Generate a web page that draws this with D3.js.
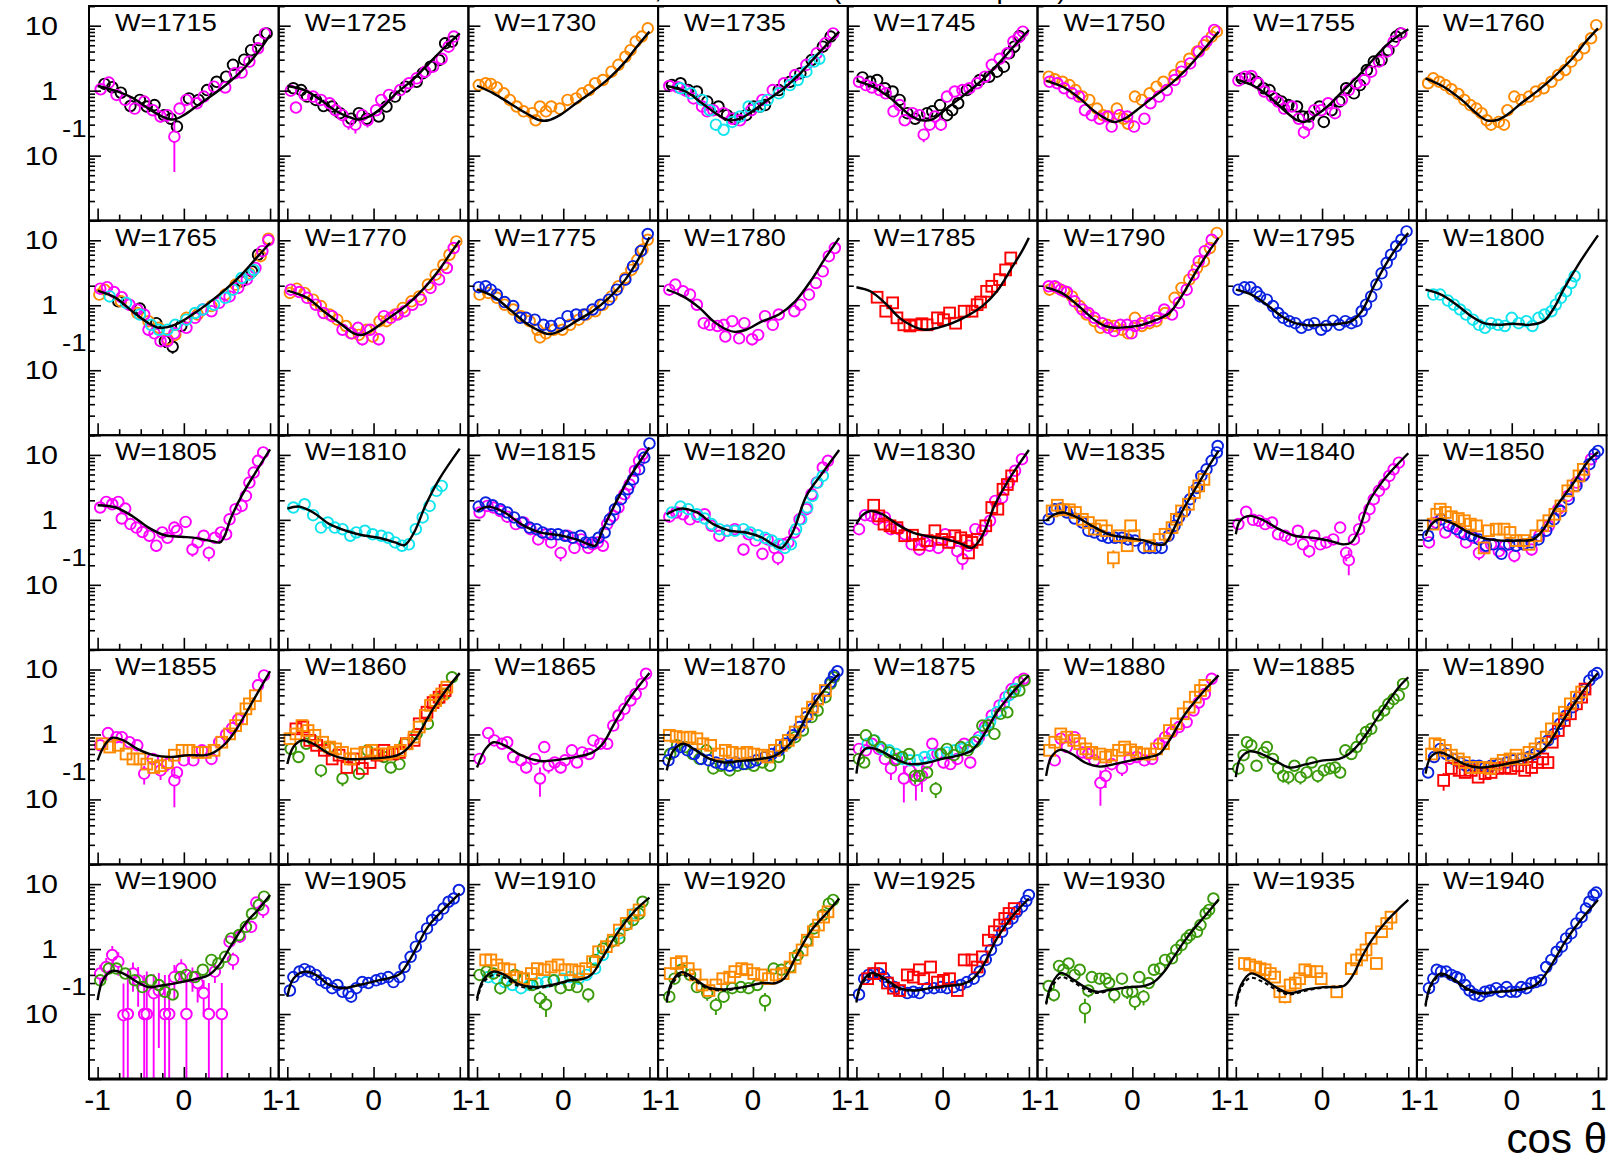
<!DOCTYPE html>
<html><head><meta charset="utf-8">
<script src="https://cdn.jsdelivr.net/npm/d3@7"></script>
<style>body{margin:0;background:#fff}svg{display:block}text{font-family:"Liberation Sans",Arial,sans-serif}</style>
</head><body>
<svg id="c" width="1613" height="1162"></svg>
<script>
// ---------- panel labels (W in MeV) ----------
const W = [1715,1725,1730,1735,1745,1750,1755,1760,
           1765,1770,1775,1780,1785,1790,1795,1800,
           1805,1810,1815,1820,1830,1835,1840,1850,
           1855,1860,1865,1870,1875,1880,1885,1890,
           1900,1905,1910,1920,1925,1930,1935,1940];
const xTickLabels = [-1,0,1];
const yTickLabels = [10,1,0.1];

// ---------- fit curves [cos theta, value] ----------
const fits = [
 [[-1,1.18],[-0.8,1.0],[-0.6,0.78],[-0.4,0.52],[-0.25,0.4],[-0.12,0.36],[0,0.42],[0.15,0.58],[0.3,0.8],[0.45,1.12],[0.6,1.65],[0.75,2.6],[0.9,4.6],[1,7.2]],
 [[-1,1.18],[-0.8,1.02],[-0.6,0.7],[-0.45,0.5],[-0.3,0.4],[-0.18,0.36],[-0.05,0.4],[0.1,0.55],[0.25,0.88],[0.45,1.45],[0.6,2.3],[0.8,4.3],[1,7.6]],
 [[-1,1.19],[-0.81,0.91],[-0.62,0.64],[-0.43,0.45],[-0.27,0.35],[-0.17,0.35],[-0.04,0.42],[0.15,0.64],[0.34,0.97],[0.53,1.55],[0.72,2.8],[0.84,4.5],[1,8.1]],
 [[-1,1.18],[-0.78,0.97],[-0.59,0.64],[-0.4,0.42],[-0.27,0.35],[-0.15,0.37],[0.01,0.5],[0.17,0.72],[0.36,1.09],[0.55,1.85],[0.74,3.5],[1,8.1]],
 [[-1,1.41],[-0.79,1.12],[-0.58,0.72],[-0.38,0.42],[-0.24,0.35],[-0.12,0.36],[0.02,0.5],[0.2,0.76],[0.37,1.15],[0.54,1.85],[0.72,3.33],[0.89,6.0],[1,8.6]],
 [[-1,1.43],[-0.79,1.12],[-0.61,0.76],[-0.44,0.48],[-0.29,0.36],[-0.21,0.33],[-0.09,0.37],[0.05,0.5],[0.25,0.81],[0.43,1.22],[0.6,1.96],[0.77,3.5],[1,8.1]],
 [[-1,1.49],[-0.79,1.18],[-0.61,0.81],[-0.44,0.5],[-0.29,0.35],[-0.21,0.33],[-0.09,0.4],[0.08,0.6],[0.25,1.02],[0.43,1.74],[0.6,3.1],[0.77,5.35],[1,8.8]],
 [[-1,1.55],[-0.79,1.15],[-0.58,0.72],[-0.41,0.45],[-0.29,0.35],[-0.18,0.35],[-0.06,0.42],[0.11,0.64],[0.31,1.02],[0.51,1.74],[0.72,3.33],[0.86,5.7],[1,9.1]],
 [[-1,1.68],[-0.79,1.3],[-0.6,0.81],[-0.41,0.53],[-0.29,0.45],[-0.19,0.46],[-0.06,0.53],[0.1,0.72],[0.29,1.09],[0.48,1.74],[0.67,2.96],[0.86,5.7],[1,9.1]],
 [[-1,1.68],[-0.77,1.3],[-0.58,0.81],[-0.39,0.53],[-0.23,0.37],[-0.13,0.35],[-0.01,0.42],[0.18,0.64],[0.37,0.97],[0.57,1.74],[0.76,3.5],[0.91,6.8],[1,9.9]],
 [[-1,1.74],[-0.81,1.37],[-0.62,0.86],[-0.43,0.53],[-0.27,0.4],[-0.17,0.36],[-0.04,0.4],[0.15,0.57],[0.34,0.81],[0.53,1.3],[0.72,2.48],[0.88,5.35],[1,11.1]],
 [[-1,1.74],[-0.81,1.37],[-0.62,0.91],[-0.46,0.57],[-0.3,0.42],[-0.21,0.39],[-0.08,0.42],[0.11,0.57],[0.3,0.72],[0.49,1.15],[0.68,2.48],[0.84,5.35],[1,10.9]],
 [[-1,1.89],[-0.84,1.64],[-0.67,1.09],[-0.5,0.64],[-0.35,0.48],[-0.21,0.42],[-0.06,0.45],[0.11,0.53],[0.28,0.68],[0.46,0.97],[0.63,1.64],[0.8,3.75],[0.92,6.8],[1,10.9]],
 [[-1,1.89],[-0.82,1.55],[-0.64,1.02],[-0.47,0.64],[-0.32,0.48],[-0.21,0.45],[-0.06,0.46],[0.11,0.5],[0.28,0.6],[0.43,0.76],[0.57,1.37],[0.75,3.5],[0.89,6.8],[1,10.9]],
 [[-1,1.74],[-0.82,1.46],[-0.64,1.02],[-0.47,0.68],[-0.29,0.52],[-0.15,0.49],[0.02,0.5],[0.2,0.52],[0.34,0.57],[0.46,0.81],[0.6,1.96],[0.75,4.5],[0.89,8.6],[1,12.9]],
 [[-1,1.74],[-0.82,1.46],[-0.64,1.02],[-0.47,0.68],[-0.32,0.53],[-0.15,0.5],[0.02,0.52],[0.2,0.5],[0.37,0.57],[0.49,0.91],[0.6,1.74],[0.77,4.2],[1,11.9]],
 [[-1,1.68],[-0.79,1.55],[-0.6,1.15],[-0.41,0.76],[-0.22,0.58],[-0.03,0.55],[0.16,0.52],[0.33,0.47],[0.42,0.45],[0.48,0.6],[0.54,1.02],[0.67,2.34],[0.83,5.35],[1,12.2]],
 [[-1,1.49],[-0.86,1.6],[-0.7,1.3],[-0.51,0.86],[-0.32,0.68],[-0.13,0.58],[0.06,0.53],[0.25,0.45],[0.36,0.41],[0.47,0.64],[0.6,1.64],[0.76,4.2],[1,12.5]],
 [[-1,1.37],[-0.87,1.6],[-0.68,1.3],[-0.49,0.86],[-0.27,0.64],[-0.04,0.58],[0.15,0.5],[0.3,0.42],[0.37,0.4],[0.46,0.72],[0.62,1.96],[0.78,4.75],[1,13]],
 [[-1,1.22],[-0.84,1.49],[-0.65,1.3],[-0.46,0.86],[-0.27,0.68],[-0.08,0.64],[0.11,0.53],[0.23,0.42],[0.33,0.37],[0.46,0.64],[0.62,2.34],[0.81,5.35],[1,11.9]],
 [[-1,0.86],[-0.93,1.18],[-0.84,1.37],[-0.7,1.22],[-0.53,0.86],[-0.35,0.64],[-0.15,0.55],[0.05,0.5],[0.23,0.42],[0.34,0.37],[0.46,0.57],[0.6,1.64],[0.77,4.2],[1,11.9]],
 [[-1,0.97],[-0.9,1.22],[-0.8,1.3],[-0.64,1.09],[-0.47,0.81],[-0.27,0.6],[-0.06,0.53],[0.14,0.48],[0.28,0.42],[0.37,0.42],[0.46,0.64],[0.57,1.3],[0.75,3.33],[0.89,6.8],[1,11.5]],
 [[-1,0.6],[-0.95,0.97],[-0.84,1.15],[-0.67,0.97],[-0.5,0.72],[-0.32,0.57],[-0.12,0.53],[0.08,0.48],[0.25,0.42],[0.34,0.45],[0.43,0.72],[0.54,1.85],[0.72,4.2],[1,10.6]],
 [[-1,0.57],[-0.93,0.86],[-0.84,1.02],[-0.67,0.86],[-0.5,0.64],[-0.32,0.52],[-0.12,0.48],[0.08,0.48],[0.25,0.5],[0.37,0.72],[0.51,1.55],[0.72,3.75],[0.89,8.1],[1,11.1]],
 [[-1,0.4],[-0.92,0.68],[-0.83,0.89],[-0.7,0.81],[-0.54,0.6],[-0.35,0.48],[-0.16,0.45],[0.06,0.48],[0.25,0.48],[0.35,0.53],[0.48,0.72],[0.6,1.15],[0.79,3.1],[1,9.4]],
 [[-1,0.35],[-0.93,0.64],[-0.83,0.81],[-0.7,0.72],[-0.51,0.5],[-0.32,0.42],[-0.13,0.42],[0.12,0.44],[0.28,0.48],[0.37,0.57],[0.5,0.91],[0.69,2.48],[0.85,5.0],[1,8.8]],
 [[-1,0.31],[-0.9,0.6],[-0.81,0.76],[-0.68,0.68],[-0.49,0.48],[-0.27,0.39],[-0.04,0.41],[0.18,0.46],[0.34,0.53],[0.46,0.72],[0.59,1.46],[0.78,3.75],[1,8.8]],
 [[-1,0.28],[-0.92,0.57],[-0.81,0.72],[-0.69,0.6],[-0.5,0.42],[-0.34,0.37],[-0.15,0.39],[0.08,0.42],[0.24,0.46],[0.35,0.57],[0.49,0.91],[0.68,2.63],[0.87,5.7],[1,8.6]],
 [[-1,0.25],[-0.95,0.5],[-0.87,0.62],[-0.73,0.57],[-0.55,0.42],[-0.38,0.35],[-0.21,0.36],[-0.01,0.42],[0.2,0.48],[0.34,0.57],[0.46,0.91],[0.63,2.2],[0.83,4.75],[1,8.1]],
 [[-1,0.23],[-0.94,0.45],[-0.84,0.58],[-0.7,0.5],[-0.55,0.37],[-0.38,0.32],[-0.21,0.35],[-0.01,0.4],[0.2,0.45],[0.31,0.5],[0.43,0.81],[0.6,1.96],[0.8,4.2],[1,8.1]],
 [[-1,0.22],[-0.95,0.42],[-0.84,0.55],[-0.7,0.5],[-0.55,0.4],[-0.38,0.31],[-0.18,0.35],[0.02,0.4],[0.2,0.42],[0.31,0.5],[0.43,0.72],[0.57,1.3],[0.75,2.96],[0.89,5.35],[1,7.6]],
 [[-1,0.25],[-0.94,0.45],[-0.84,0.53],[-0.7,0.45],[-0.55,0.35],[-0.38,0.31],[-0.18,0.33],[0.02,0.37],[0.2,0.42],[0.31,0.5],[0.43,0.72],[0.57,1.46],[0.75,3.33],[0.89,6.0],[1,8.8]],
 [[-1,0.164],[-0.94,0.33],[-0.83,0.46],[-0.7,0.42],[-0.54,0.31],[-0.41,0.26],[-0.22,0.28],[-0.03,0.31],[0.16,0.35],[0.29,0.4],[0.41,0.57],[0.54,1.09],[0.73,2.63],[0.86,4.0],[1,6.8]],
 [[-1,0.185],[-0.93,0.35],[-0.8,0.45],[-0.67,0.4],[-0.51,0.28],[-0.36,0.25],[-0.17,0.28],[0.06,0.33],[0.22,0.37],[0.31,0.42],[0.44,0.76],[0.63,2.2],[0.82,4.2],[1,7.2]],
 [[-1,0.174],[-0.93,0.33],[-0.81,0.45],[-0.68,0.4],[-0.52,0.29],[-0.33,0.26],[-0.14,0.28],[0.08,0.33],[0.24,0.35],[0.34,0.42],[0.46,0.76],[0.65,1.96],[0.84,4.0],[1,6.2]],
 [[-1,0.164],[-0.94,0.31],[-0.83,0.44],[-0.7,0.37],[-0.53,0.26],[-0.34,0.24],[-0.11,0.26],[0.11,0.3],[0.27,0.3],[0.36,0.35],[0.49,0.72],[0.68,1.96],[0.87,3.75],[1,6.0]],
 [[-1,0.155],[-0.94,0.3],[-0.82,0.43],[-0.67,0.35],[-0.5,0.25],[-0.33,0.23],[-0.15,0.25],[0.05,0.27],[0.23,0.29],[0.34,0.34],[0.46,0.53],[0.63,1.46],[0.8,3.1],[1,6.0]],
 [[-1,0.146],[-0.94,0.28],[-0.83,0.43],[-0.7,0.35],[-0.55,0.26],[-0.41,0.22],[-0.24,0.24],[-0.03,0.26],[0.14,0.27],[0.25,0.31],[0.37,0.45],[0.48,0.75],[0.6,1.3],[0.72,2.1],[0.84,3.2],[1,5.8]],
 [[-1,0.143],[-0.94,0.28],[-0.83,0.42],[-0.68,0.35],[-0.54,0.26],[-0.38,0.21],[-0.18,0.24],[0.02,0.26],[0.25,0.27],[0.36,0.4],[0.46,0.75],[0.58,1.4],[0.75,2.7],[0.9,4.3],[1,5.7]],
 [[-1,0.137],[-0.94,0.28],[-0.83,0.42],[-0.68,0.35],[-0.53,0.25],[-0.38,0.21],[-0.18,0.22],[0.02,0.23],[0.23,0.26],[0.34,0.33],[0.46,0.57],[0.63,1.37],[0.8,2.8],[1,5.7]]
];

// alternative fit (dashed), only where it departs from the solid one
const dashedFits = {
 1910:[[-1,0.16],[-0.93,0.3],[-0.81,0.4],[-0.68,0.36],[-0.52,0.27],[-0.33,0.25],[-0.14,0.27],[0.08,0.33]],
 1920:[[-1,0.15],[-0.94,0.28],[-0.83,0.4],[-0.7,0.34],[-0.53,0.25],[-0.34,0.23],[-0.11,0.26]],
 1925:[[-1,0.15],[-0.94,0.28],[-0.82,0.4],[-0.67,0.33],[-0.5,0.24],[-0.33,0.23]],
 1930:[[-1,0.14],[-0.94,0.25],[-0.83,0.37],[-0.7,0.32],[-0.55,0.24],[-0.41,0.21],[-0.24,0.235],[-0.03,0.26]],
 1935:[[-1,0.13],[-0.94,0.25],[-0.83,0.36],[-0.68,0.31],[-0.54,0.24],[-0.38,0.2],[-0.18,0.23],[0.02,0.255],[0.25,0.27]],
 1940:[[-1,0.13],[-0.94,0.26],[-0.83,0.39],[-0.68,0.33],[-0.53,0.24],[-0.38,0.205],[-0.18,0.22]]
};

// ---------- data sets: {W: [[cos, value, error?], ...]} ----------
const blackData = {
 1715:[[-0.92,1.27],[-0.83,1.13],[-0.73,0.93],[-0.62,0.58],[-0.51,0.72],[-0.43,0.57],[-0.34,0.6],[-0.23,0.42],[-0.15,0.37],[-0.08,0.28],[0.06,0.76],[0.17,0.72],[0.27,1.02],[0.38,1.37],[0.49,1.64],[0.57,2.5],[0.7,3.0],[0.78,4.2],[0.87,6.0],[0.96,7.6]],
 1725:[[-0.93,1.09],[-0.84,1.02],[-0.77,0.81],[-0.67,0.72],[-0.58,0.58],[-0.48,0.57],[-0.39,0.45],[-0.26,0.37],[-0.17,0.45],[-0.08,0.37],[0.06,0.4],[0.15,0.57],[0.25,0.81],[0.37,1.15],[0.5,1.37],[0.57,1.85],[0.66,2.34],[0.76,2.96],[0.83,5.35],[0.91,5.7]],
 1735:[[-0.94,1.22],[-0.84,1.3],[-0.75,1.02],[-0.65,0.97],[-0.53,0.68],[-0.4,0.57],[-0.3,0.42],[-0.21,0.37],[-0.08,0.42],[0.01,0.57],[0.08,0.57],[0.14,0.6],[0.3,1.02],[0.43,1.37],[0.55,1.85],[0.68,2.96],[0.81,4.75],[0.9,6.8]],
 1745:[[-0.93,1.6],[-0.84,1.37],[-0.76,1.46],[-0.67,1.09],[-0.58,0.97],[-0.5,0.72],[-0.41,0.45],[-0.32,0.37],[-0.18,0.45],[-0.12,0.48],[-0.03,0.6],[0.05,0.42],[0.11,0.5],[0.18,0.64],[0.28,1.02],[0.43,1.46],[0.54,1.64],[0.63,1.96],[0.71,2.34],[0.77,3.75],[0.83,4.75],[0.89,6.9]],
 1755:[[-0.93,1.54],[-0.84,1.54],[-0.76,1.37],[-0.68,1.09],[-0.61,1.02],[-0.54,0.76],[-0.47,0.68],[-0.39,0.6],[-0.29,0.57],[-0.22,0.4],[-0.15,0.4],[-0.03,0.57],[0.02,0.33,0.06],[0.11,0.5],[0.2,0.68],[0.28,1.09],[0.37,0.91],[0.44,1.22],[0.52,2.08],[0.6,2.8],[0.69,2.96],[0.77,4.2],[0.86,6.8],[0.91,7.6]],
 1765:[[-0.76,1.15],[-0.51,0.89],[-0.32,0.53],[-0.22,0.28,0.06],[-0.13,0.23,0.05],[-0.03,0.48],[0.67,2.34],[0.79,3.33],[0.86,6.0]]
};
const orangeData = {
 1730:[[-0.98,1.22],[-0.9,1.3],[-0.84,1.27],[-0.77,1.12],[-0.69,0.91],[-0.62,0.72],[-0.54,0.57],[-0.46,0.48],[-0.36,0.45],[-0.32,0.35],[-0.27,0.57],[-0.2,0.48],[-0.14,0.57],[-0.04,0.53],[0.05,0.72],[0.15,0.76],[0.22,0.91],[0.3,1.02],[0.37,1.3],[0.46,1.46],[0.56,1.96],[0.64,2.5],[0.72,3.33],[0.78,4.2],[0.84,5.7],[0.91,6.8],[0.98,9.1]],
 1750:[[-0.97,1.64],[-0.9,1.5],[-0.81,1.37],[-0.73,1.22],[-0.66,1.02],[-0.58,0.81],[-0.5,0.72],[-0.41,0.53],[-0.34,0.42],[-0.27,0.4],[-0.18,0.53],[-0.1,0.37],[-0.05,0.31],[0.03,0.81],[0.11,0.72],[0.2,0.91],[0.28,1.15],[0.36,1.37],[0.49,1.74],[0.57,2.34],[0.66,3.1],[0.75,4.0],[0.83,5.0],[0.92,6.8],[0.98,8.1]],
 1760:[[-0.97,1.3],[-0.91,1.55],[-0.84,1.37],[-0.77,1.22],[-0.7,1.05],[-0.62,0.89],[-0.55,0.72],[-0.48,0.6],[-0.41,0.53],[-0.35,0.45],[-0.29,0.35],[-0.24,0.3],[-0.15,0.33],[-0.09,0.3],[-0.05,0.5],[0.03,0.81],[0.11,0.72],[0.2,0.81],[0.28,0.97],[0.37,1.09],[0.46,1.37],[0.54,1.74],[0.62,2.08],[0.69,2.8],[0.76,3.5],[0.84,4.5],[0.92,6.4],[0.98,10.2]],
 1765:[[-0.98,1.46],[-0.92,1.74],[-0.73,1.15],[-0.54,0.76],[-0.41,0.57],[-0.29,0.45],[-0.19,0.3],[-0.1,0.35],[0.03,0.64],[0.16,0.72],[0.32,0.97],[0.48,1.46],[0.6,2.08],[0.76,3.1],[0.89,5.7],[0.98,10.6]],
 1770:[[-0.97,1.55],[-0.89,1.8],[-0.8,1.55],[-0.7,1.22],[-0.61,0.97],[-0.51,0.72],[-0.42,0.6],[-0.32,0.48],[-0.25,0.37],[-0.17,0.35],[-0.08,0.42],[-0.01,0.33],[0.07,0.57],[0.15,0.57],[0.25,0.72],[0.34,0.91],[0.44,1.15],[0.53,1.37],[0.63,2.08],[0.72,2.96],[0.81,4.2],[0.88,6.0],[0.96,9.6]],
 1775:[[-0.97,1.46],[-0.87,1.55],[-0.77,1.3],[-0.68,1.02],[-0.58,0.86],[-0.49,0.68],[-0.39,0.57],[-0.3,0.42],[-0.27,0.32],[-0.2,0.37],[-0.11,0.42],[-0.01,0.42],[0.08,0.5],[0.18,0.6],[0.27,0.72],[0.37,0.81],[0.46,1.02],[0.56,1.37],[0.64,1.96],[0.72,2.63],[0.79,3.5],[0.86,5.0],[0.92,7.2],[0.98,10.2]],
 1790:[[-0.96,1.74],[-0.87,1.85],[-0.79,1.64],[-0.7,1.37],[-0.61,0.97],[-0.53,0.72],[-0.44,0.57],[-0.37,0.45],[-0.29,0.5],[-0.21,0.48],[-0.12,0.42],[-0.05,0.37],[0.03,0.64],[0.11,0.48],[0.2,0.53],[0.28,0.57],[0.38,0.76],[0.49,1.3],[0.57,1.85],[0.66,2.48],[0.75,3.75],[0.83,4.75],[0.9,7.6],[0.98,13]]
};
const magentaData = {
 1715:[[-0.965,1.05],[-0.87,1.33],[-0.78,0.86,0.1],[-0.68,0.72,0.1],[-0.57,0.53,0.08],[-0.46,0.68],[-0.36,0.5,0.08],[-0.27,0.4,0.08],[-0.19,0.42,0.1],[-0.11,0.196,0.14],[-0.05,0.53,0.1],[0.03,0.72],[0.15,0.64],[0.23,0.81],[0.35,1.15],[0.48,1.12,0.15],[0.59,1.85],[0.67,1.9],[0.76,2.8],[0.86,4.5],[0.94,7.6]],
 1725:[[-0.96,1.0],[-0.9,0.55,0.1],[-0.8,0.86],[-0.7,0.81],[-0.61,0.72],[-0.51,0.64],[-0.44,0.5],[-0.36,0.42],[-0.29,0.33,0.08],[-0.21,0.3,0.08],[-0.13,0.42],[-0.07,0.35,0.08],[0.03,0.5],[0.09,0.72],[0.18,0.86],[0.31,1.02],[0.41,1.3],[0.5,1.55],[0.6,1.96],[0.69,2.34],[0.79,3.1],[0.87,4.75],[0.93,6.8]],
 1735:[[-0.97,1.18],[-0.87,1.13],[-0.78,1.0],[-0.69,0.76],[-0.59,0.57],[-0.53,0.48],[-0.46,0.5],[-0.34,0.45],[-0.24,0.37],[-0.15,0.35],[-0.02,0.5],[0.11,0.72],[0.23,1.02],[0.36,1.3],[0.49,1.74],[0.62,2.5],[0.74,3.75],[0.84,5.35],[0.93,7.6]],
 1745:[[-0.97,1.37],[-0.89,1.22],[-0.82,1.12],[-0.73,1.02],[-0.66,0.91],[-0.57,0.48],[-0.5,0.6],[-0.44,0.35,0.06],[-0.35,0.45],[-0.27,0.42],[-0.22,0.21,0.05],[-0.15,0.3,0.05],[-0.09,0.4],[-0.02,0.3,0.06],[0.05,0.81],[0.14,0.97],[0.23,1.02],[0.31,1.09],[0.4,1.3],[0.49,1.64],[0.57,2.5],[0.66,3.1],[0.75,3.75],[0.82,5.7],[0.88,6.6],[0.93,8.1]],
 1750:[[-0.96,1.37],[-0.87,1.3],[-0.79,1.09],[-0.7,0.91],[-0.62,0.81],[-0.55,0.5],[-0.47,0.42],[-0.38,0.37],[-0.29,0.4],[-0.24,0.28,0.04],[-0.15,0.42],[-0.06,0.4],[0.02,0.28,0.05],[0.14,0.37,0.07],[0.21,0.64],[0.31,0.81],[0.4,1.02],[0.49,1.46],[0.57,1.96],[0.67,2.63],[0.77,4.0],[0.86,5.7],[0.95,8.6]],
 1755:[[-0.97,1.43],[-0.89,1.64],[-0.82,1.68],[-0.74,1.3],[-0.67,0.97],[-0.58,0.81],[-0.51,0.68],[-0.44,0.53],[-0.35,0.57],[-0.27,0.37],[-0.21,0.23,0.05],[-0.16,0.3,0.06],[-0.09,0.5],[-0.01,0.5],[0.07,0.64],[0.15,0.45,0.07],[0.23,0.72],[0.31,1.02],[0.4,1.3],[0.49,1.46],[0.57,1.96],[0.66,2.8],[0.75,4.0],[0.83,5.7],[0.92,7.6]],
 1765:[[-0.97,1.8],[-0.89,1.9],[-0.81,1.6],[-0.72,1.33],[-0.63,1.02],[-0.54,0.86],[-0.46,0.72],[-0.41,0.42,0.08],[-0.34,0.37],[-0.27,0.28,0.05],[-0.19,0.28,0.05],[-0.11,0.37],[0.03,0.45,0.06],[0.13,0.64],[0.22,0.86],[0.32,0.81],[0.41,1.09],[0.53,1.37],[0.63,1.85],[0.73,2.5],[0.83,3.75],[0.91,6.8],[0.98,10]],
 1770:[[-0.96,1.74],[-0.86,1.6],[-0.77,1.3],[-0.67,1.02],[-0.58,0.76],[-0.48,0.68],[-0.36,0.42],[-0.26,0.37,0.05],[-0.18,0.45],[-0.13,0.3,0.06],[-0.04,0.42],[0.06,0.3,0.06],[0.12,0.68],[0.2,0.64],[0.28,0.72],[0.36,0.81,0.1],[0.45,1.02],[0.55,1.22],[0.66,1.85],[0.76,2.5],[0.85,3.75],[0.93,7.6]],
 1780:[[-0.97,1.74],[-0.9,2.08],[-0.81,1.64],[-0.73,1.46],[-0.65,1.02],[-0.57,0.53],[-0.5,0.5,0.06],[-0.41,0.48],[-0.34,0.5],[-0.32,0.33,0.05],[-0.24,0.57],[-0.16,0.31,0.05],[-0.1,0.53],[-0.01,0.3,0.06],[0.06,0.35,0.06],[0.14,0.68],[0.23,0.5,0.07],[0.3,0.72],[0.48,0.81],[0.55,1.02],[0.65,1.46],[0.73,2.2],[0.81,3.33],[0.88,5.7],[0.95,7.6]],
 1790:[[-0.97,1.96],[-0.9,1.96],[-0.83,1.74],[-0.76,1.6],[-0.67,1.15],[-0.58,0.86],[-0.51,0.76],[-0.44,0.64],[-0.35,0.53],[-0.28,0.45],[-0.21,0.4],[-0.14,0.5],[-0.06,0.5],[-0.01,0.37,0.05],[0.03,0.48],[0.11,0.53],[0.2,0.58],[0.28,0.64],[0.37,0.86],[0.46,0.72],[0.54,1.09],[0.63,1.74],[0.71,2.96],[0.77,4.75],[0.84,6.8],[0.92,10.2]],
 1805:[[-0.97,1.55],[-0.9,1.89],[-0.83,1.74],[-0.76,1.89],[-0.68,1.49],[-0.72,1.05],[-0.62,0.86],[-0.55,0.76],[-0.48,0.65],[-0.4,0.57],[-0.32,0.4,0.08],[-0.25,0.64],[-0.19,0.53,0.07],[-0.11,0.76],[-0.08,0.68],[0.02,0.93],[0.1,0.35,0.08],[0.16,0.45],[0.23,0.57],[0.29,0.31,0.08],[0.36,0.53],[0.43,0.64],[0.49,0.6],[0.53,1.02],[0.6,1.46],[0.67,1.64],[0.72,2.34],[0.76,3.75],[0.81,5.35],[0.86,8.1],[0.92,10.9]],
 1815:[[-0.97,1.3],[-0.88,1.64],[-0.81,1.55],[-0.73,1.37],[-0.65,1.12],[-0.55,0.86],[-0.46,0.91],[-0.38,0.72],[-0.29,0.5],[-0.2,0.6],[-0.14,0.45,0.08],[-0.03,0.31,0.08],[0.05,0.57],[0.13,0.37,0.07],[0.21,0.5],[0.29,0.37],[0.34,0.42],[0.4,0.45],[0.46,0.4,0.07],[0.51,0.86],[0.58,1.15],[0.64,1.55],[0.71,2.48],[0.77,3.5],[0.83,5.7],[0.88,8.1],[0.92,10.2]],
 1820:[[-0.97,1.12],[-0.89,1.3],[-0.81,1.22],[-0.73,1.02],[-0.64,1.12],[-0.56,1.22],[-0.48,0.81],[-0.39,0.57],[-0.3,0.68],[-0.21,0.72],[-0.11,0.35,0.07],[-0.05,0.6],[0.03,0.48],[0.11,0.3,0.06],[0.17,0.5],[0.25,0.37],[0.29,0.26,0.06],[0.35,0.42],[0.41,0.45],[0.48,0.64],[0.54,1.02],[0.62,1.46],[0.68,2.48],[0.74,3.75],[0.81,6.4],[0.87,8.1]],
 1830:[[-0.97,0.72,0.1],[-0.9,1.18],[-0.83,1.15],[-0.76,1.02],[-0.67,1.09],[-0.6,0.72],[-0.51,0.72],[-0.44,0.6],[-0.36,0.42],[-0.27,0.35,0.07],[-0.21,0.45],[-0.15,0.4],[-0.05,0.37,0.06],[0.03,0.6],[0.09,0.45],[0.17,0.33,0.06],[0.23,0.25,0.08],[0.3,0.4],[0.38,0.72],[0.46,0.68],[0.55,0.97],[0.61,1.96],[0.69,2.2],[0.77,3.75],[0.84,5.7],[0.92,8.6]],
 1840:[[-0.97,0.86],[-0.88,1.33],[-0.8,1.0],[-0.73,0.97],[-0.66,0.86],[-0.58,0.91],[-0.51,0.6],[-0.43,0.57],[-0.36,0.5],[-0.28,0.68],[-0.22,0.42,0.07],[-0.15,0.33,0.07],[-0.09,0.57],[-0.02,0.42],[0.05,0.45],[0.13,0.5],[0.21,0.76],[0.28,0.31,0.08],[0.31,0.24,0.1],[0.37,0.5],[0.43,0.72],[0.49,1.09],[0.55,1.46],[0.6,2.08],[0.66,2.8],[0.72,3.5],[0.78,4.75],[0.83,6.0],[0.89,7.6]],
 1850:[[-0.96,0.45,0.08],[-0.88,0.91],[-0.77,0.64],[-0.68,0.76],[-0.6,0.64],[-0.53,0.45],[-0.44,0.53],[-0.38,0.31,0.07],[-0.31,0.37],[-0.24,0.42],[-0.15,0.33],[-0.08,0.4],[0.03,0.28,0.06],[0.13,0.42],[0.23,0.35,0.07],[0.32,0.57],[0.43,0.81],[0.54,1.46],[0.65,2.34],[0.75,3.75],[0.84,5.0],[0.92,8.6]],
 1855:[[-0.97,0.68],[-0.88,1.05],[-0.78,0.91],[-0.72,0.91],[-0.63,0.76],[-0.54,0.68],[-0.46,0.25,0.08],[-0.36,0.42,0.08],[-0.27,0.28,0.08],[-0.19,0.35,0.08],[-0.11,0.196,0.12],[-0.08,0.26],[0,0.4],[0.11,0.4,0.06],[0.21,0.57],[0.32,0.42,0.06],[0.41,0.76],[0.49,1.0],[0.56,1.25],[0.63,1.7],[0.86,5.7],[0.93,8.1]],
 1865:[[-0.97,0.42],[-0.87,1.05],[-0.8,0.81],[-0.71,0.72],[-0.65,0.76],[-0.58,0.45],[-0.49,0.4],[-0.43,0.31,0.06],[-0.33,0.42],[-0.27,0.21,0.1],[-0.22,0.64],[-0.17,0.33,0.08],[-0.1,0.37],[-0.03,0.31,0.06],[0.02,0.4],[0.1,0.57],[0.16,0.37,0.06],[0.22,0.53],[0.3,0.5],[0.35,0.81],[0.43,0.72],[0.51,0.72],[0.58,1.37],[0.64,1.96],[0.71,2.48],[0.78,3.33],[0.84,4.2],[0.91,6.0],[0.96,8.6]],
 1875:[[-0.97,0.6],[-0.89,0.57],[-0.82,0.72],[-0.74,0.6],[-0.67,0.42],[-0.6,0.3,0.1],[-0.53,0.42],[-0.45,0.21,0.12],[-0.38,0.28,0.1],[-0.31,0.196,0.1],[-0.24,0.23,0.1],[-0.18,0.37,0.08],[-0.12,0.72],[-0.06,0.5],[0.01,0.37,0.07],[0.09,0.35],[0.17,0.42],[0.25,0.72],[0.32,0.37,0.07],[0.42,0.91],[0.49,1.3],[0.57,1.96],[0.66,2.8],[0.73,3.75],[0.8,5.0],[0.88,6.4],[0.94,7.2]],
 1880:[[-0.9,0.4,0.07],[-0.83,0.86],[-0.76,0.64],[-0.67,0.91],[-0.58,0.53],[-0.51,0.5],[-0.44,0.4],[-0.37,0.18,0.1],[-0.31,0.23,0.08],[-0.24,0.35,0.07],[-0.12,0.3,0.07],[-0.03,0.42],[0.05,0.45],[0.14,0.4],[0.23,0.42],[0.31,0.72],[0.38,0.91],[0.46,1.09],[0.54,1.3],[0.63,1.55],[0.71,2.34],[0.77,3.1],[0.84,4.2],[0.92,7.2]],
 1900:[[-0.97,0.42,0.15],[-0.9,0.53,0.2],[-0.83,0.81,0.3],[-0.76,0.64,0.25],[-0.7,0.096,0.2],[-0.65,0.1,0.3],[-0.59,0.42,0.2],[-0.53,0.33,0.2],[-0.46,0.1,0.3],[-0.43,0.1,0.35],[-0.35,0.21,0.2],[-0.29,0.23,0.2],[-0.22,0.1,0.3],[-0.17,0.1,0.3],[-0.11,0.37,0.2],[-0.03,0.5,0.2],[0.03,0.1,0.25],[0.1,0.37,0.15],[0.16,0.3,0.15],[0.23,0.21,0.12],[0.29,0.1,0.2],[0.36,0.45,0.15],[0.44,0.1,0.2],[0.53,1.3,0.3],[0.57,0.68,0.2],[0.65,1.55,0.3],[0.78,2.2,0.4],[0.84,5.2,1],[0.92,4.0,1]]
};
const cyanData = {
 1735:[[-0.84,1.09],[-0.72,0.91],[-0.59,0.72],[-0.5,0.5],[-0.43,0.3,0.06],[-0.34,0.25,0.05],[-0.24,0.33],[-0.15,0.4],[-0.05,0.57],[0.08,0.57],[0.17,0.72],[0.3,0.91],[0.43,1.22],[0.52,1.46],[0.62,1.96],[0.71,2.8],[0.77,3.1]],
 1765:[[-0.86,1.37],[-0.67,1.09],[-0.51,0.72],[-0.38,0.5],[-0.29,0.42],[-0.19,0.42],[-0.1,0.5],[0.03,0.6],[0.13,0.76],[0.22,0.86],[0.35,1.02],[0.48,1.3],[0.57,1.74],[0.67,2.63],[0.76,2.96],[0.81,3.5]],
 1800:[[-0.91,1.46],[-0.83,1.46],[-0.74,1.18],[-0.67,1.02],[-0.6,0.86],[-0.53,0.72],[-0.45,0.6],[-0.38,0.5],[-0.31,0.45],[-0.24,0.53],[-0.16,0.5],[-0.08,0.48],[0,0.64],[0.08,0.53],[0.17,0.57],[0.24,0.48],[0.31,0.64],[0.38,0.72],[0.46,0.81],[0.51,1.02],[0.57,1.3],[0.63,1.64],[0.69,2.2],[0.73,2.8]],
 1810:[[-0.93,1.55],[-0.8,1.74],[-0.7,1.18],[-0.61,0.76],[-0.53,0.91],[-0.45,0.76],[-0.36,0.72],[-0.27,0.57],[-0.2,0.64],[-0.1,0.68],[-0.01,0.6],[0.09,0.57],[0.17,0.53],[0.25,0.45],[0.33,0.4],[0.41,0.42],[0.49,0.72],[0.57,1.09],[0.65,1.64],[0.73,2.8],[0.79,3.33]],
 1820:[[-0.94,1.3],[-0.84,1.6],[-0.75,1.46],[-0.65,1.22],[-0.56,1.05],[-0.48,0.86],[-0.39,0.72],[-0.3,0.68],[-0.21,0.68],[-0.11,0.72],[-0.03,0.64],[0.06,0.58],[0.14,0.53],[0.22,0.48],[0.3,0.42],[0.37,0.37],[0.44,0.42],[0.5,0.72],[0.56,1.02],[0.63,1.55],[0.69,2.34],[0.75,3.75],[0.81,4.75]],
 1875:[[-0.87,0.72],[-0.79,0.81],[-0.7,0.6],[-0.62,0.57],[-0.54,0.5],[-0.47,0.42],[-0.38,0.4],[-0.29,0.4],[-0.21,0.45],[-0.12,0.48],[-0.03,0.5],[0.05,0.53],[0.14,0.57],[0.23,0.6],[0.31,0.64],[0.4,0.81],[0.49,1.15],[0.55,1.55],[0.63,2.2],[0.71,2.96],[0.77,4.0],[0.84,5.0]],
 1910:[[-0.87,0.37],[-0.77,0.35],[-0.68,0.31],[-0.59,0.28],[-0.49,0.25],[-0.39,0.28],[-0.3,0.3],[-0.2,0.31],[-0.11,0.33],[-0.01,0.35],[0.08,0.37],[0.18,0.35],[0.27,0.4],[0.37,0.5],[0.46,0.81],[0.56,1.3],[0.65,1.74],[0.75,2.48],[0.83,3.53]]
};
const blueData = {
 1775:[[-0.98,1.9],[-0.9,1.96],[-0.84,1.74],[-0.77,1.46],[-0.68,1.12],[-0.58,0.97],[-0.5,0.64],[-0.43,0.64],[-0.33,0.6],[-0.23,0.5],[-0.14,0.48],[-0.04,0.53],[0.05,0.68],[0.15,0.72],[0.24,0.72],[0.34,0.86],[0.43,1.02],[0.53,1.22],[0.62,1.74],[0.72,2.48],[0.81,4.0],[0.9,6.8],[0.98,12.5]],
 1795:[[-0.97,1.74],[-0.9,1.89],[-0.83,1.89],[-0.76,1.6],[-0.72,1.37],[-0.64,1.22],[-0.57,0.97],[-0.51,0.76],[-0.45,0.64],[-0.38,0.57],[-0.31,0.53],[-0.24,0.45],[-0.16,0.5],[-0.09,0.53],[-0.01,0.42],[0.05,0.48],[0.13,0.58],[0.2,0.5],[0.27,0.57],[0.34,0.53],[0.4,0.57],[0.46,0.81],[0.51,1.02],[0.57,1.37],[0.63,2.08],[0.69,3.1],[0.75,4.5],[0.8,6.0],[0.86,8.1],[0.92,10.2],[0.98,13.7]],
 1815:[[-0.98,1.6],[-0.9,1.85],[-0.82,1.68],[-0.73,1.46],[-0.65,1.3],[-0.57,1.09],[-0.48,0.91],[-0.39,0.76],[-0.31,0.72],[-0.24,0.64],[-0.14,0.6],[-0.06,0.6],[0.02,0.57],[0.11,0.53],[0.2,0.57],[0.26,0.45],[0.34,0.45],[0.41,0.53],[0.48,0.64],[0.54,1.02],[0.6,1.46],[0.67,2.08],[0.75,2.96],[0.81,4.2],[0.88,6.0],[0.94,9.1],[1,15]],
 1835:[[-0.97,1.02],[-0.9,1.46],[-0.83,1.49],[-0.76,1.3],[-0.67,1.05],[-0.58,0.91],[-0.51,0.68],[-0.44,0.64],[-0.35,0.57],[-0.28,0.53],[-0.2,0.53],[-0.12,0.53],[-0.05,0.5],[0.03,0.48],[0.13,0.37],[0.2,0.37],[0.27,0.37],[0.34,0.37],[0.42,0.57],[0.49,0.81],[0.54,1.09],[0.61,1.37],[0.67,2.08],[0.75,3.1],[0.8,4.75],[0.86,6.0],[0.92,8.1],[0.98,10.9],[0.99,13.7]],
 1850:[[-0.97,0.57],[-0.91,0.86],[-0.82,1.02],[-0.73,0.81],[-0.64,0.72],[-0.55,0.6],[-0.47,0.57],[-0.38,0.5],[-0.3,0.4],[-0.21,0.42],[-0.12,0.3],[-0.03,0.42],[0.05,0.4],[0.14,0.42],[0.23,0.45],[0.31,0.5],[0.4,0.68],[0.49,1.02],[0.57,1.37],[0.66,2.08],[0.75,3.33],[0.83,4.75],[0.9,7.2],[0.96,10.2],[1,11.5]],
 1870:[[-0.98,0.4],[-0.92,0.53],[-0.84,0.64],[-0.76,0.57],[-0.68,0.5],[-0.6,0.42],[-0.51,0.4],[-0.43,0.37],[-0.35,0.35],[-0.27,0.33],[-0.2,0.37],[-0.11,0.35],[-0.03,0.37],[0.04,0.4],[0.14,0.45],[0.22,0.5],[0.3,0.57],[0.37,0.72],[0.46,0.97],[0.54,1.3],[0.62,1.85],[0.69,2.48],[0.77,3.5],[0.84,4.75],[0.9,6.4],[0.94,8.1],[0.98,9.4]],
 1890:[[-0.97,0.26],[-0.9,0.45],[-0.83,0.6],[-0.76,0.5],[-0.68,0.42],[-0.6,0.37],[-0.53,0.33],[-0.45,0.33],[-0.38,0.33],[-0.31,0.31],[-0.24,0.33],[-0.15,0.35],[-0.06,0.37],[0.02,0.4],[0.11,0.42],[0.2,0.45],[0.27,0.5],[0.34,0.64],[0.42,0.81],[0.49,1.02],[0.56,1.46],[0.63,1.96],[0.71,2.63],[0.78,3.75],[0.85,5.0],[0.9,6.8],[0.95,8.1],[0.99,8.8]],
 1905:[[-0.97,0.23],[-0.93,0.37],[-0.86,0.45],[-0.8,0.49],[-0.74,0.45],[-0.67,0.4],[-0.61,0.33],[-0.55,0.3],[-0.48,0.25],[-0.42,0.28],[-0.36,0.22],[-0.29,0.21],[-0.26,0.185],[-0.2,0.25],[-0.13,0.31],[-0.06,0.3],[0.03,0.33],[0.09,0.35],[0.17,0.37],[0.23,0.31],[0.3,0.37],[0.36,0.53],[0.43,0.76],[0.49,1.09],[0.55,1.55],[0.62,2.08],[0.68,2.8],[0.74,3.3],[0.81,4.2],[0.87,5.35],[0.93,6.0],[0.99,8.1]],
 1925:[[-0.97,0.2],[-0.91,0.35],[-0.86,0.4],[-0.8,0.42],[-0.74,0.42],[-0.68,0.37],[-0.63,0.31],[-0.56,0.26],[-0.49,0.23],[-0.41,0.21],[-0.34,0.22],[-0.27,0.21],[-0.18,0.25],[-0.1,0.25],[-0.02,0.26],[0.05,0.25],[0.13,0.26],[0.21,0.28],[0.28,0.31],[0.36,0.35],[0.43,0.45],[0.5,0.68],[0.56,0.97],[0.63,1.37],[0.69,1.85],[0.75,2.48],[0.81,2.96],[0.86,3.75],[0.92,4.5],[0.97,5.5],[1,6.8]],
 1940:[[-0.96,0.25],[-0.91,0.35],[-0.87,0.48],[-0.82,0.45],[-0.76,0.45],[-0.7,0.4],[-0.64,0.37],[-0.6,0.35],[-0.54,0.28],[-0.49,0.23],[-0.43,0.2],[-0.37,0.19],[-0.31,0.22],[-0.25,0.23],[-0.18,0.25],[-0.12,0.22],[-0.06,0.26],[-0.01,0.22],[0.05,0.22],[0.11,0.26],[0.17,0.25],[0.23,0.3],[0.28,0.31],[0.34,0.33],[0.4,0.53],[0.46,0.68],[0.52,0.91],[0.58,1.09],[0.63,1.46],[0.69,1.74],[0.75,2.48],[0.81,3.1],[0.86,4.2],[0.9,5.35],[0.95,6.8],[0.98,7.4]]
};
const greenData = {
 1860:[[-0.96,0.6,0.1],[-0.87,0.45,0.08],[-0.78,0.72],[-0.7,0.81],[-0.61,0.28,0.06],[-0.51,0.64],[-0.36,0.21,0.05],[-0.17,0.25,0.05],[-0.07,0.57],[0.12,0.45],[0.2,0.31,0.06],[0.3,0.35],[0.36,0.72],[0.5,1.02],[0.63,1.46],[0.76,3.5],[0.83,4.2],[0.91,7.6]],
 1870:[[-0.96,0.5],[-0.88,0.68],[-0.79,0.64],[-0.7,0.5],[-0.62,0.42],[-0.54,0.57],[-0.46,0.3,0.05],[-0.37,0.33],[-0.27,0.28,0.05],[-0.18,0.33],[-0.08,0.35],[0.01,0.33,0.05],[0.11,0.37],[0.2,0.33,0.05],[0.3,0.45],[0.39,0.72],[0.49,0.91],[0.58,1.15],[0.68,1.85],[0.75,2.34],[0.84,3.75],[0.9,6.0],[0.94,7.6]],
 1875:[[-0.97,0.42,0.06],[-0.91,0.37],[-0.89,0.97],[-0.8,0.81],[-0.72,0.64],[-0.62,0.53],[-0.55,0.4],[-0.47,0.45],[-0.39,0.5],[-0.32,0.23,0.06],[-0.27,0.23],[-0.18,0.26],[-0.08,0.145,0.04],[-0.02,0.5],[0.05,0.6],[0.13,0.48],[0.21,0.64],[0.29,0.57],[0.37,0.76],[0.46,1.37],[0.53,1.37],[0.6,1.02],[0.67,2.08],[0.75,2.2],[0.82,4.5],[0.89,4.75],[0.95,6.8]],
 1885:[[-0.97,0.3,0.05],[-0.91,0.48],[-0.87,0.76],[-0.82,0.68],[-0.76,0.33],[-0.68,0.53],[-0.64,0.64],[-0.57,0.42],[-0.51,0.3],[-0.45,0.23,0.05],[-0.39,0.22,0.05],[-0.32,0.33],[-0.25,0.22,0.05],[-0.18,0.26,0.05],[-0.12,0.37],[-0.05,0.23,0.05],[0.02,0.28],[0.09,0.3],[0.15,0.31],[0.21,0.26,0.05],[0.27,0.57],[0.34,0.5],[0.4,0.64],[0.46,0.86],[0.51,1.09],[0.57,1.22],[0.65,1.96],[0.72,2.34],[0.77,2.96],[0.83,3.5],[0.89,4.0],[0.94,6.0]],
 1900:[[-0.97,0.33],[-0.87,0.5],[-0.78,0.5],[-0.68,0.42],[-0.57,0.33],[-0.48,0.26],[-0.38,0.33],[-0.29,0.28],[-0.22,0.22],[-0.13,0.2],[-0.04,0.37],[0.03,0.4],[0.13,0.37],[0.22,0.48],[0.32,0.68],[0.4,0.6],[0.48,0.76],[0.55,1.46],[0.64,1.64],[0.72,2.2],[0.79,3.5],[0.87,4.75],[0.93,6.4]],
 1910:[[-0.97,0.4],[-0.89,0.45],[-0.81,0.42],[-0.73,0.25,0.05],[-0.65,0.33],[-0.56,0.4],[-0.46,0.35],[-0.36,0.28],[-0.27,0.174,0.05],[-0.2,0.14,0.05],[-0.11,0.33],[-0.03,0.25],[0.07,0.28,0.05],[0.16,0.26],[0.29,0.2,0.05],[0.37,0.68],[0.46,1.02],[0.56,1.3],[0.65,1.46],[0.73,2.34],[0.81,2.8],[0.88,3.5],[0.92,5.35]],
 1920:[[-0.97,0.185],[-0.91,0.35],[-0.83,0.48],[-0.73,0.4],[-0.65,0.26],[-0.53,0.21,0.05],[-0.43,0.137,0.04],[-0.34,0.185],[-0.24,0.25],[-0.14,0.26],[-0.05,0.25],[0.05,0.28],[0.14,0.16,0.05],[0.24,0.5],[0.33,0.48],[0.43,0.53],[0.52,0.81],[0.62,1.3],[0.71,2.08],[0.81,3.33],[0.88,5.0],[0.93,5.7]],
 1930:[[-0.97,0.27],[-0.91,0.196,0.04],[-0.85,0.55],[-0.8,0.48],[-0.74,0.6],[-0.67,0.4],[-0.61,0.48],[-0.55,0.122,0.05],[-0.51,0.23,0.05],[-0.47,0.37],[-0.38,0.35,0.05],[-0.31,0.35],[-0.27,0.3],[-0.21,0.196,0.05],[-0.12,0.35],[-0.06,0.22,0.05],[0,0.22],[0.03,0.155,0.04],[0.08,0.37],[0.13,0.185,0.05],[0.19,0.3],[0.25,0.48],[0.32,0.5],[0.38,0.68],[0.46,0.72],[0.51,0.97],[0.57,1.15],[0.63,1.46],[0.67,1.64],[0.75,1.85],[0.79,2.34],[0.85,3.53],[0.89,4.0],[0.94,6.0]]
};
const redData = {
 1785:[[-0.76,1.33],[-0.66,0.81],[-0.58,1.09],[-0.53,0.64],[-0.45,0.5],[-0.38,0.48],[-0.31,0.5],[-0.24,0.52],[-0.18,0.5],[-0.06,0.64],[0.01,0.6],[0.08,0.76],[0.15,0.53],[0.25,0.81],[0.34,0.81],[0.4,1.02],[0.44,1.12],[0.51,1.64],[0.57,1.96],[0.66,2.48],[0.73,3.5],[0.79,5.35]],
 1830:[[-0.8,1.68],[-0.74,1.15],[-0.68,0.86],[-0.61,0.81],[-0.53,0.76],[-0.44,0.57],[-0.35,0.58],[-0.27,0.42],[-0.18,0.48],[-0.09,0.68],[-0.01,0.5],[0.07,0.45],[0.14,0.57],[0.21,0.53],[0.28,0.48],[0.34,0.45],[0.3,0.31],[0.4,0.5],[0.5,0.81],[0.57,1.55],[0.64,1.46],[0.7,2.96],[0.75,3.5],[0.8,4.75]],
 1860:[[-0.9,1.22],[-0.82,1.3],[-0.74,0.81],[-0.66,0.68],[-0.57,0.57],[-0.48,0.42],[-0.4,0.48],[-0.31,0.31],[-0.23,0.42],[-0.13,0.3],[-0.04,0.37],[0.04,0.48],[0.12,0.57],[0.22,0.5],[0.3,0.53],[0.38,0.72],[0.47,0.81],[0.53,1.46],[0.62,2.2],[0.69,3.1],[0.76,3.75],[0.83,4.75]],
 1890:[[-0.79,0.196,0.06],[-0.7,0.3],[-0.61,0.28],[-0.54,0.26],[-0.47,0.28],[-0.39,0.22],[-0.31,0.25],[-0.24,0.26],[-0.16,0.3],[-0.08,0.31],[-0.01,0.3],[0.07,0.33],[0.15,0.28],[0.23,0.31],[0.3,0.37],[0.36,0.42],[0.42,0.37],[0.47,0.76],[0.54,1.15],[0.61,1.64],[0.68,2.08],[0.75,2.96],[0.81,3.75],[0.85,5.0]],
 1925:[[-0.87,0.35],[-0.8,0.42],[-0.72,0.5],[-0.64,0.3],[-0.57,0.25],[-0.5,0.23],[-0.41,0.4],[-0.34,0.37],[-0.27,0.48],[-0.22,0.35],[-0.14,0.53],[-0.06,0.31],[0.01,0.33],[0.08,0.35],[0.17,0.23],[0.25,0.68],[0.34,0.68],[0.4,0.53],[0.46,0.76],[0.53,1.37],[0.6,1.85],[0.66,2.34],[0.72,2.96],[0.77,3.53],[0.83,4.2]]
};
const orangeSqData = {
 1835:[[-0.93,1.37],[-0.87,1.68],[-0.8,1.43],[-0.73,1.43],[-0.66,1.3],[-0.58,1.02],[-0.51,0.91],[-0.44,0.72],[-0.36,0.81],[-0.3,0.68],[-0.22,0.26,0.08],[-0.15,0.57],[-0.06,0.4,0.07],[-0.02,0.81],[0.02,0.57],[0.2,0.4],[0.31,0.5],[0.38,0.6],[0.46,0.76],[0.51,1.02],[0.57,1.37],[0.65,1.74],[0.72,2.63],[0.77,3.33],[0.83,4.2]],
 1850:[[-0.91,0.86],[-0.87,1.22],[-0.83,1.46],[-0.77,1.3],[-0.7,1.12],[-0.62,1.05],[-0.55,0.97],[-0.48,0.86],[-0.41,0.81],[-0.32,0.37],[-0.27,0.68],[-0.18,0.72],[-0.09,0.72],[-0.02,0.64],[0.05,0.48],[0.14,0.48],[0.2,0.42],[0.28,0.57],[0.36,0.81],[0.43,0.97],[0.5,1.22],[0.57,1.64],[0.65,2.8],[0.71,3.33],[0.78,4.75],[0.83,6.0]],
 1855:[[-0.95,0.72],[-0.86,0.64],[-0.76,0.68],[-0.67,0.5],[-0.59,0.42],[-0.51,0.42],[-0.43,0.35],[-0.35,0.31],[-0.27,0.33],[-0.19,0.37],[-0.11,0.48],[-0.02,0.57],[0.06,0.57],[0.16,0.53],[0.25,0.53],[0.35,0.57],[0.44,0.76],[0.53,1.02],[0.6,1.37],[0.67,1.74],[0.72,2.48],[0.76,2.96],[0.83,3.95]],
 1860:[[-0.97,0.86],[-0.9,1.02],[-0.83,1.37],[-0.76,1.15],[-0.68,0.97],[-0.59,0.76],[-0.51,0.64],[-0.44,0.6],[-0.36,0.53],[-0.27,0.42],[-0.2,0.5],[-0.1,0.53],[-0.02,0.57],[0.06,0.5],[0.15,0.5],[0.23,0.53],[0.31,0.57],[0.39,0.72],[0.47,0.91],[0.53,1.3],[0.6,1.96],[0.66,2.8],[0.72,3.33],[0.79,4.2],[0.85,5.35]],
 1870:[[-0.97,0.97],[-0.89,0.93],[-0.81,0.89],[-0.73,0.91],[-0.65,0.86],[-0.58,0.72],[-0.49,0.68],[-0.4,0.5],[-0.32,0.57],[-0.24,0.53],[-0.15,0.5],[-0.07,0.53],[0.01,0.5],[0.1,0.48],[0.17,0.45],[0.25,0.57],[0.33,0.68],[0.41,0.81],[0.49,1.09],[0.56,1.55],[0.63,2.08],[0.69,2.63],[0.75,3.5],[0.84,4.75]],
 1880:[[-0.96,0.57],[-0.9,0.76],[-0.83,1.02],[-0.76,0.91],[-0.68,0.81],[-0.61,0.72],[-0.54,0.6],[-0.47,0.53],[-0.38,0.5],[-0.31,0.45],[-0.24,0.48],[-0.16,0.57],[-0.09,0.64],[-0.02,0.58],[0.05,0.53],[0.13,0.5],[0.21,0.5],[0.28,0.6],[0.36,0.72],[0.43,1.15],[0.51,1.46],[0.59,2.08],[0.66,2.63],[0.73,3.75],[0.79,4.75],[0.84,5.7]],
 1890:[[-0.93,0.5],[-0.89,0.72],[-0.84,0.68],[-0.77,0.57],[-0.7,0.48],[-0.62,0.42],[-0.55,0.37],[-0.47,0.31],[-0.39,0.31],[-0.32,0.31],[-0.25,0.3],[-0.18,0.35],[-0.1,0.4],[-0.02,0.42],[0.05,0.48],[0.13,0.42],[0.2,0.53],[0.27,0.6],[0.34,0.72],[0.4,0.91],[0.46,1.22],[0.54,1.74],[0.61,2.2],[0.68,2.96],[0.75,3.75],[0.81,4.5]],
 1910:[[-0.9,0.68],[-0.84,0.68],[-0.77,0.57],[-0.69,0.5],[-0.62,0.48],[-0.54,0.37],[-0.46,0.35],[-0.37,0.42],[-0.3,0.5],[-0.22,0.48],[-0.14,0.53],[-0.06,0.57],[0.02,0.48],[0.1,0.48],[0.18,0.45],[0.26,0.5],[0.34,0.64],[0.41,0.91],[0.5,1.09],[0.58,1.37],[0.65,1.96],[0.73,2.48],[0.81,3.33],[0.88,4.0]],
 1920:[[-0.96,0.42],[-0.89,0.6],[-0.83,0.64],[-0.75,0.5],[-0.67,0.4],[-0.59,0.28],[-0.51,0.23],[-0.43,0.28],[-0.35,0.35],[-0.27,0.37],[-0.21,0.45],[-0.13,0.5],[-0.07,0.48],[0.01,0.42],[0.1,0.4],[0.18,0.35],[0.27,0.4],[0.35,0.42],[0.43,0.53],[0.49,0.72],[0.57,0.97],[0.63,1.37],[0.7,1.85],[0.76,2.34],[0.82,3.1],[0.87,3.75]],
 1935:[[-0.9,0.6],[-0.84,0.57],[-0.77,0.53],[-0.72,0.5],[-0.66,0.48],[-0.6,0.42],[-0.55,0.37],[-0.49,0.22],[-0.43,0.185,0.04],[-0.37,0.28],[-0.31,0.3],[-0.26,0.35],[-0.2,0.48],[-0.14,0.45],[-0.06,0.45],[-0.01,0.35],[0.17,0.22],[0.34,0.5],[0.4,0.68],[0.46,0.81],[0.51,0.97],[0.57,1.46],[0.63,0.6],[0.69,1.85],[0.75,2.48],[0.8,3.1]]
};

// ---------- drawing ----------
const svg = d3.select('#c');
const LEFT = 89, PW = 189.7, TOP = 6, PH = 214.6, NCOL = 8;
const YMIN = 0.01, YMAX = 20.1;
const datasets = [
  {data: blackData,    color: '#000000', shape: 'circle'},
  {data: orangeData,   color: '#ff8a00', shape: 'circle'},
  {data: magentaData,  color: '#ff00ff', shape: 'circle'},
  {data: cyanData,     color: '#12e4ee', shape: 'circle'},
  {data: greenData,    color: '#3a9a0a', shape: 'circle'},
  {data: blueData,     color: '#0a22e0', shape: 'circle'},
  {data: redData,      color: '#ff0000', shape: 'square'},
  {data: orangeSqData, color: '#ff8a00', shape: 'square'}
];
const R = 5.3, SQ = 5.4;

const yMajor = [0.01, 0.1, 1, 10];
const yMinor = [];
[0.01, 0.1, 1, 10].forEach(d => { for (let k = 2; k <= 9; k++) if (k * d <= YMAX) yMinor.push(k * d); });
const xMajor = [-1, 0, 1];
const xMinor = [-0.75, -0.5, -0.25, 0.25, 0.5, 0.75];

const defs = svg.append('defs');

W.forEach((w, i) => {
  const col = i % NCOL, row = Math.floor(i / NCOL);
  const x0 = LEFT + col * PW, y0 = TOP + row * PH;
  const xs = d3.scaleLinear().domain([-1.1, 1.1]).range([x0, x0 + PW]);
  const ys = d3.scaleLog().domain([YMIN, YMAX]).range([y0 + PH, y0]);
  const g = svg.append('g');
  defs.append('clipPath').attr('id', 'clip' + i).append('rect')
    .attr('x', x0).attr('y', y0).attr('width', PW).attr('height', PH);
  const inner = g.append('g').attr('clip-path', `url(#clip${i})`);

  datasets.forEach(ds => {
    const pts = ds.data[w];
    if (!pts) return;
    const sg = inner.append('g').attr('stroke', ds.color).attr('fill', 'none').attr('stroke-width', 1.9);
    const rr = ds.shape === 'circle' ? R : SQ;
    pts.forEach(p => {
      const cx = xs(p[0]), cy = ys(p[1]);
      if (p[2]) {
        const lo = Math.max(p[1] - p[2], 0.001), hi = p[1] + p[2];
        const yl = ys(lo), yh = ys(hi);
        if (yl > cy + rr) sg.append('line').attr('x1', cx).attr('x2', cx).attr('y1', cy + rr).attr('y2', yl);
        if (yh < cy - rr) sg.append('line').attr('x1', cx).attr('x2', cx).attr('y1', yh).attr('y2', cy - rr);
      }
      if (ds.shape === 'circle') sg.append('circle').attr('cx', cx).attr('cy', cy).attr('r', R);
      else sg.append('rect').attr('x', cx - SQ).attr('y', cy - SQ).attr('width', 2 * SQ).attr('height', 2 * SQ);
    });
  });

  const line = d3.line().x(d => xs(d[0])).y(d => ys(d[1])).curve(d3.curveCatmullRom.alpha(0.5));
  if (dashedFits[w]) {
    inner.append('path').attr('d', line(dashedFits[w])).attr('fill', 'none')
      .attr('stroke', '#000').attr('stroke-width', 2).attr('stroke-dasharray', '4,3');
  }
  inner.append('path').attr('d', line(fits[i])).attr('fill', 'none')
    .attr('stroke', '#000').attr('stroke-width', 2.4);

  // axes (ticks inside)
  const styleAxis = a => { a.select('.domain').remove(); a.selectAll('line').attr('stroke', '#000').attr('stroke-width', 1.6); };
  g.append('g').attr('transform', `translate(${x0},0)`)
    .call(d3.axisRight(ys).tickValues(yMajor).tickSize(12).tickSizeOuter(0).tickFormat('')).call(styleAxis);
  g.append('g').attr('transform', `translate(${x0},0)`)
    .call(d3.axisRight(ys).tickValues(yMinor).tickSize(6).tickSizeOuter(0).tickFormat('')).call(styleAxis);
  g.append('g').attr('transform', `translate(0,${y0 + PH})`)
    .call(d3.axisTop(xs).tickValues(xMajor).tickSize(12).tickSizeOuter(0).tickFormat('')).call(styleAxis);
  g.append('g').attr('transform', `translate(0,${y0 + PH})`)
    .call(d3.axisTop(xs).tickValues(xMinor).tickSize(6).tickSizeOuter(0).tickFormat('')).call(styleAxis);

  g.append('rect').attr('x', x0).attr('y', y0).attr('width', PW).attr('height', PH)
    .attr('fill', 'none').attr('stroke', '#000').attr('stroke-width', 2);

  g.append('text').attr('transform', `translate(${x0 + 26},${y0 + 25}) scale(1.18,1)`)
    .attr('font-size', 23).text('W=' + w);

  // y labels on first column
  if (col === 0) {
    yTickLabels.forEach(v => {
      const y = ys(v);
      const t = svg.append('text').attr('transform', `translate(58,${y + 9}) scale(1.2,1)`)
        .attr('text-anchor', 'end').attr('font-size', 25);
      if (v >= 1) t.text(String(v));
      else {
        t.text('10');
        svg.append('text').attr('transform', `translate(62,${y - 19}) scale(1.2,1)`)
          .attr('font-size', 23).text('-1');
      }
    });
  }
  // x labels on last row
  if (row === 4) {
    xTickLabels.forEach(v => {
      svg.append('text').attr('x', xs(v)).attr('y', 1110).attr('text-anchor', 'middle')
        .attr('font-size', 30).text(String(v));
    });
  }
});

// bottom axis line slightly thicker
svg.append('line').attr('x1', LEFT).attr('x2', LEFT + 8 * PW).attr('y1', TOP + 5 * PH).attr('y2', TOP + 5 * PH)
  .attr('stroke', '#000').attr('stroke-width', 3);

svg.append('text').attr('x', 1607).attr('y', 1153).attr('text-anchor', 'end').attr('font-size', 42).text('cos θ');

// title (cut off by the top edge in the original; only descenders show)
svg.append('text').attr('x', 662).attr('y', -2).attr('text-anchor', 'end').attr('font-size', 28).text('Differential cross sections,');
svg.append('text').attr('x', 832).attr('y', -2).attr('font-size', 28).text('(data and fit');
svg.append('text').attr('x', 953).attr('y', -2).attr('font-size', 28).text('vs. p cm)');
</script>
</body></html>
